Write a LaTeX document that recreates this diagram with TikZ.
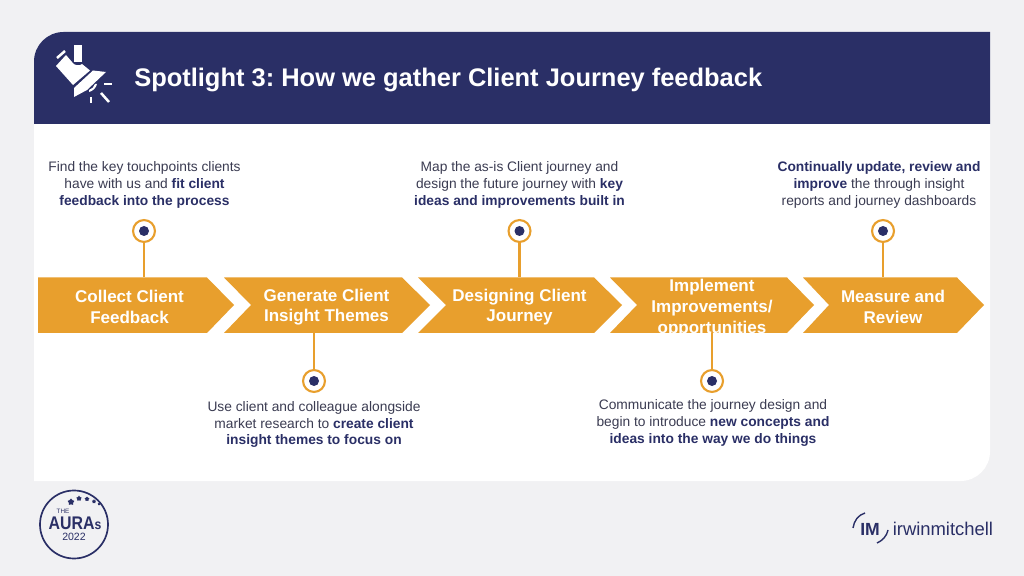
\documentclass[tikz,border=0pt]{standalone}
\usepackage{fontspec}
\usepackage{graphicx}
\usetikzlibrary{shapes.geometric}
\setmainfont{Liberation Sans}
\frenchspacing
\definecolor{navy}{HTML}{2A2F66}
\definecolor{amber}{HTML}{E89F2D}
\definecolor{pagegrey}{HTML}{F1F1F3}
\definecolor{bodygrey}{HTML}{3B3C52}
\newcommand{\hi}[1]{\textbf{\textcolor{navy}{#1}}}
\tikzset{
  note/.style={align=center,text=bodygrey,font=\fontsize{9.8}{11.8}\selectfont,inner sep=0pt},
  steplabel/.style={align=center,text=white,font=\bfseries\fontsize{12.1}{14.7}\selectfont,inner sep=0pt},
  pin/.style={circle,draw=amber,line width=1.5pt,fill=white,minimum size=15.6pt,inner sep=0pt},
  stem/.style={draw=amber,line width=1.5pt},
  ray/.style={draw=white,line width=1.8pt},
  badgestar/.style={star,star points=5,fill=navy,inner sep=0pt},
}
\begin{document}
\begin{tikzpicture}[x=0.025cm,y=-0.025cm]
  \useasboundingbox (0,0) rectangle (1024,576);
  \fill[pagegrey] (0,0) rectangle (1024,576);
  %--- Panel
  \fill[white] (34,124) [rounded corners=21pt] -- (34,32) [sharp corners] -- (990,32) [rounded corners=21pt] -- (990,481) [sharp corners] -- (34,481) -- cycle;
  \fill[navy] (34,124) [rounded corners=21pt] -- (34,32) [sharp corners] -- (990,32) -- (990,124) -- cycle;
  %--- Spotlight icon
  \fill[white] (74,45) rectangle (82,62);
  \fill[white] (56,66) -- (66,55) -- (72,62) .. controls (74,66) and (80,66) .. (82,64) -- (90,70.5) -- (73,85) -- cycle;
  \fill[white] (93,70.5) -- (106,72) -- (87,90) -- (74,97) -- (74,88) -- cycle;
  \fill[white] (89,92) .. controls (93,91) and (96,88) .. (97,84) -- (95,84) .. controls (94,87) and (92,89) .. (89,90) -- cycle;
  \draw[ray] (57,58) -- (65,51);
  \draw[ray] (104,84) -- (112,84);
  \draw[ray] (91,97) -- (91,103.5);
  \draw[ray] (101,93) -- (109,102);
  \node[anchor=west,inner sep=0pt,text=white,font=\bfseries\fontsize{18.1}{20}\selectfont] (title) at (134,80) {Spotlight 3: How we gather Client Journey feedback};
  %--- Chevrons
  \fill[amber] (38,277.5) -- (207,277.5) -- (234,305) -- (207,333) -- (38,333) -- cycle;
  \fill[amber] (224,277.5) -- (402,277.5) -- (430,305) -- (402,333) -- (224,333) -- (251,305) -- cycle;
  \fill[amber] (418,277.5) -- (594,277.5) -- (622,305) -- (594,333) -- (418,333) -- (446,305) -- cycle;
  \fill[amber] (610,277.5) -- (787,277.5) -- (814,305) -- (787,333) -- (610,333) -- (637,305) -- cycle;
  \fill[amber] (803,277.5) -- (957,277.5) -- (984,305) -- (957,333) -- (803,333) -- (829,305) -- cycle;
  \node[steplabel] (collect) at (129.5,307) {Collect Client\\Feedback};
  \node[steplabel] (generate) at (326.5,307) {Generate Client\\Insight Themes};
  \node[steplabel] (designing) at (519.5,307) {Designing Client\\Journey};
  \node[steplabel] (implement) at (712,308) {Implement\\Improvements/\\opportunities};
  \node[steplabel] (measure) at (893,307) {Measure and\\Review};
  %--- Pins
  \coordinate (s1) at (144,277.5);
  \coordinate (s2) at (314,333);
  \coordinate (s3) at (519.5,277.5);
  \coordinate (s4) at (712,333);
  \coordinate (s5) at (883,277.5);
  \node[pin] (p1) at (144,231) {};
  \node[pin] (p2) at (314,381) {};
  \node[pin] (p3) at (519.5,231) {};
  \node[pin] (p4) at (712,381) {};
  \node[pin] (p5) at (883,231) {};
  \draw[stem] (p1) -- (s1);
  \draw[stem] (p2) -- (s2);
  \draw[stem] (p3) -- (s3);
  \draw[stem] (p4) -- (s4);
  \draw[stem] (p5) -- (s5);
  \fill[navy] (p1) circle [radius=5];
  \fill[navy] (p2) circle [radius=5];
  \fill[navy] (p3) circle [radius=5];
  \fill[navy] (p4) circle [radius=5];
  \fill[navy] (p5) circle [radius=5];
  %--- Notes
  \node[note] (n1) at (144.5,185) {Find the key touchpoints clients\\have with us and \hi{fit client}\\\hi{feedback into the process}};
  \node[note] (n2) at (314,424.5) {Use client and colleague alongside\\market research to \hi{create client}\\\hi{insight themes to focus on}};
  \node[note] (n3) at (519.5,185) {Map the as-is Client journey and\\design the future journey with \hi{key}\\\hi{ideas and improvements built in}};
  \node[note] (n4) at (713,423) {Communicate the journey design and\\begin to introduce \hi{new concepts and}\\\hi{ideas into the way we do things}};
  \node[note] (n5) at (879,185) {\hi{Continually update, review and}\\\hi{improve} the through insight\\reports and journey dashboards};
  %--- Awards badge
  \draw[navy,line width=1.2pt] (74,524.5) circle [radius=34];
  \node[text=navy,inner sep=0pt,font=\fontsize{4.5}{5}\selectfont] (the) at (63,511.5) {THE};
  \node[text=navy,inner sep=0pt,font=\bfseries\fontsize{13}{14}\selectfont] (auras) at (75,523.5) {\scalebox{0.87}[1]{AURA\fontsize{10}{14}\selectfont s}};
  \node[text=navy,inner sep=0pt,font=\fontsize{7.5}{9}\selectfont] (year) at (74,537) {2022};
  \foreach \sx/\sy/\sr in {71/502/5pt,79/498.5/4pt,87/499/3.5pt,94/501.5/3pt,99/504/2pt}
    \node[badgestar,minimum size=\sr] at (\sx,\sy) {};
  %--- Company logo
  \node[text=navy,inner sep=0pt,font=\bfseries\fontsize{12.5}{14}\selectfont] (im) at (870,529) {IM};
  \node[anchor=west,text=navy,inner sep=0pt,font=\fontsize{13.1}{14}\selectfont] (company) at (892.5,529) {irwinmitchell};
  \draw[navy,line width=1pt] (853,528) .. controls (854,521) and (858,515) .. (865,513);
  \draw[navy,line width=1pt] (888,530) .. controls (887,536) and (882,541) .. (877,543);
\end{tikzpicture}
\end{document}
